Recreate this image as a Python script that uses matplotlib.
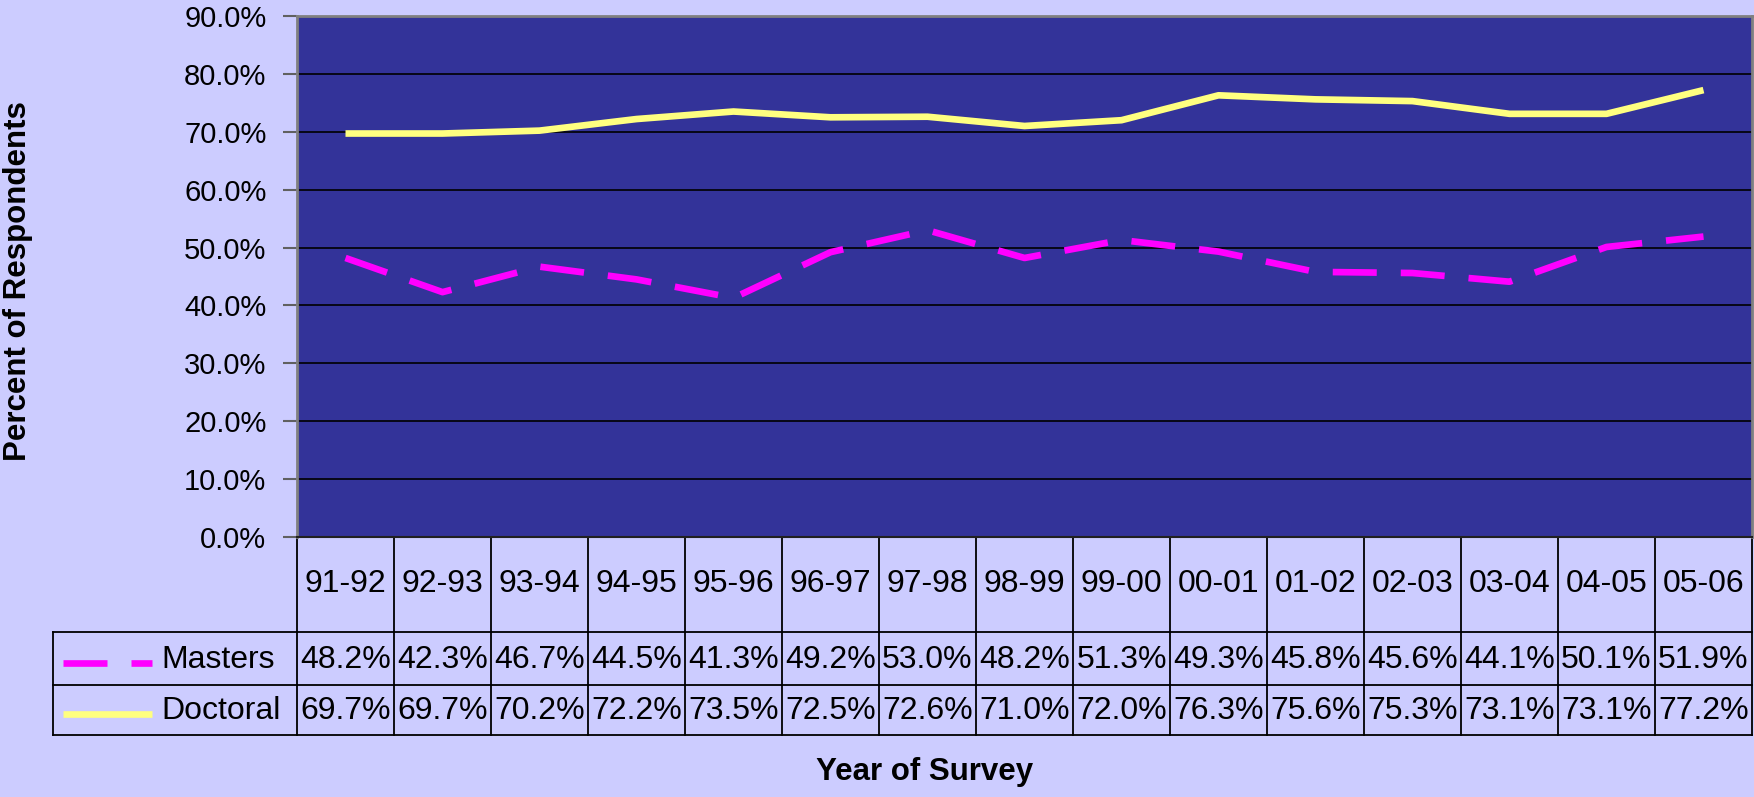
import numpy as np
import matplotlib
matplotlib.use('Agg')
import matplotlib.pyplot as plt
from matplotlib import transforms
from matplotlib.lines import Line2D
from matplotlib.ticker import FuncFormatter

plt.rcParams['font.family'] = ['Liberation Sans', 'DejaVu Sans']

years = ['91-92', '92-93', '93-94', '94-95', '95-96', '96-97', '97-98', '98-99',
         '99-00', '00-01', '01-02', '02-03', '03-04', '04-05', '05-06']
masters = [48.2, 42.3, 46.7, 44.5, 41.3, 49.2, 53.0, 48.2, 51.3, 49.3, 45.8, 45.6, 44.1, 50.1, 51.9]
doctoral = [69.7, 69.7, 70.2, 72.2, 73.5, 72.5, 72.6, 71.0, 72.0, 76.3, 75.6, 75.3, 73.1, 73.1, 77.2]
series = [('Masters', masters, '#FF00FF', (0, (6.6, 3.6))),
          ('Doctoral', doctoral, '#FFFF80', '-')]

W, H = 1754, 797
L, R, T, B = 297, 1752, 16, 537          # plot area in pixels
rows = [537, 632, 685, 735]              # table row boundaries in pixels
leg_left = 53

def fy(px):
    return 1 - px / H

fig = plt.figure(figsize=(W / 100, H / 100), dpi=100, facecolor='#CCCCFF')
ax = fig.add_axes([L / W, fy(B), (R - L) / W, (B - T) / H])
ax.set_facecolor('#333399')

x = np.arange(len(years)) + 0.5
for name, vals, color, ls in series:
    ax.plot(x, vals, color=color, lw=4.8, linestyle=ls,
            solid_capstyle='butt', dash_capstyle='butt', zorder=3)

ax.set_xlim(0, len(years))
ax.set_ylim(0, 90)
ax.set_yticks(np.arange(0, 91, 10))
ax.yaxis.set_major_formatter(FuncFormatter(lambda v, _: f'{v:.1f}%'))
ax.set_xticks([])
ax.grid(axis='y', color='black', lw=1.2)
ax.tick_params(axis='y', length=10, width=1.5, color='#606060', pad=12, labelsize=21)
for side in ['top', 'right', 'left']:
    ax.spines[side].set_color('#808080')
    ax.spines[side].set_linewidth(2)
ax.spines['bottom'].set_color('#202020')
ax.spines['bottom'].set_linewidth(1.5)

# data table below the plot
trans = transforms.blended_transform_factory(ax.transData, fig.transFigure)
line_kw = dict(color='black', lw=1.3, clip_on=False)
for i in range(len(years) + 1):
    ax.plot([i, i], [fy(rows[0]), fy(rows[-1])], transform=trans, **line_kw)
for r in rows[1:]:
    fig.add_artist(Line2D([leg_left / W, R / W], [fy(r)] * 2, **line_kw))
fig.add_artist(Line2D([leg_left / W] * 2, [fy(rows[1]), fy(rows[-1])], **line_kw))

hdr_y = fy((rows[0] + rows[1]) / 2)
for i, yr in enumerate(years):
    ax.text(i + 0.5, hdr_y, yr, transform=trans, ha='center', va='center', fontsize=23)

for k, (name, vals, color, ls) in enumerate(series):
    ry = fy((rows[k + 1] + rows[k + 2]) / 2 + 1)
    for i, v in enumerate(vals):
        ax.text(i + 0.5, ry, f'{v:.1f}%', transform=trans, ha='center', va='center',
                fontsize=23)
    fig.add_artist(Line2D([63 / W, 152 / W], [ry - 0.004] * 2, color=color, lw=4.8,
                          linestyle=ls, solid_capstyle='butt', dash_capstyle='butt'))
    fig.text(161 / W, ry, name, ha='left', va='center', fontsize=23)

fig.text(18 / W, fy(281), 'Percent of Respondents', rotation=90, ha='center',
         va='center', fontsize=22.5, fontweight='bold')
fig.text(925 / W, fy(772), 'Year of Survey', ha='center', va='center',
         fontsize=22.5, fontweight='bold')

fig.savefig('out.png', dpi=100, facecolor=fig.get_facecolor())
